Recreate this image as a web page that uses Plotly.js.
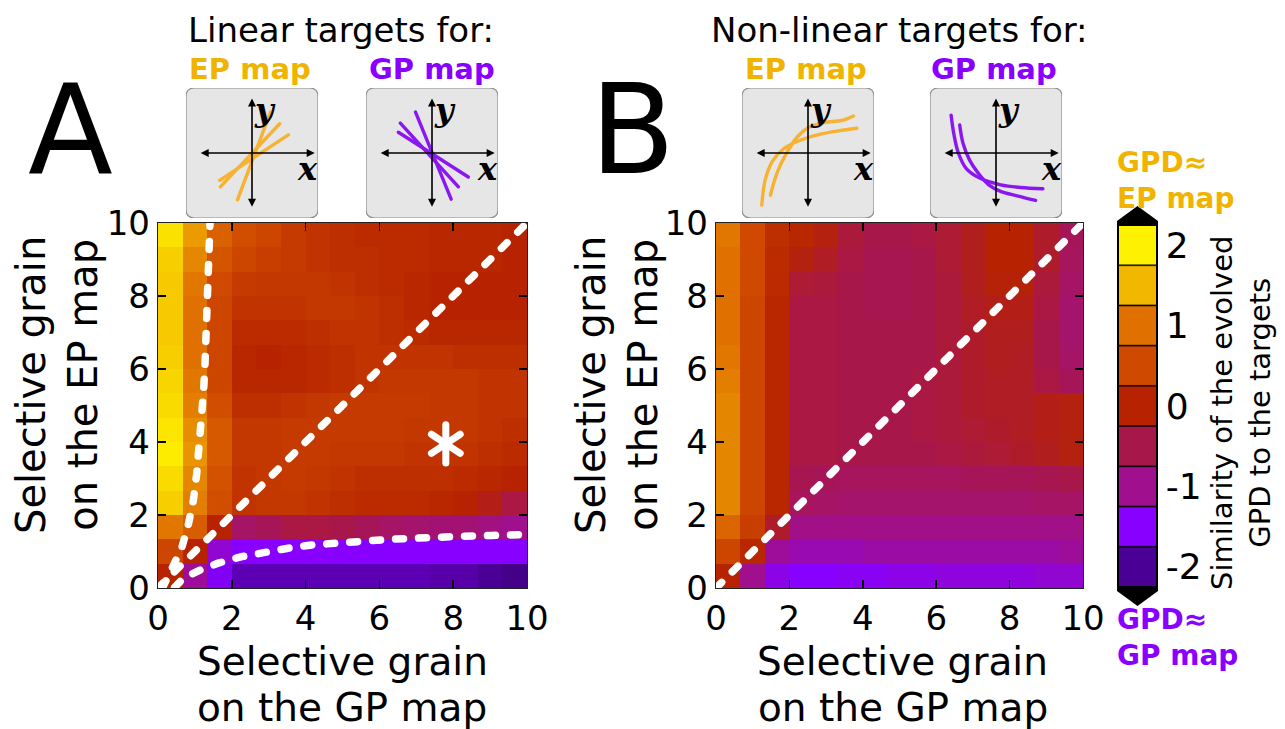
<!DOCTYPE html>
<html><head><meta charset="utf-8">
<script src="https://cdn.plot.ly/plotly-3.0.1.min.js"></script>
<style>
html,body{margin:0;padding:0;background:#fff;}
#chart{width:1285px;height:729px;}
.js-line{stroke-linecap:round;}
.point{stroke-linecap:round;}
</style></head><body><div id="chart"></div>
<script>
// ---------- data ----------
const axisTicks = [0, 2, 4, 6, 8, 10];
const barTicks = [-2, -1, 0, 1, 2];
const barTickText = ['-2', '-1', '0', '1', '2'];

// Panel A: linear targets (rows bottom -> top, 15 x 15 cells over 0..10)
const zLinear = [
  [0.0, -1.05, -1.55, -1.85, -1.85, -1.85, -1.85, -1.85, -1.85, -1.85, -1.85, -1.9, -1.9, -2.0, -2.1],
  [0.45, 0.0, -1.3, -1.5, -1.5, -1.5, -1.5, -1.5, -1.5, -1.5, -1.5, -1.5, -1.5, -1.5, -1.5],
  [1.05, 0.75, 0.0, -0.7, -0.6, -0.45, -0.45, -0.5, -0.6, -0.7, -0.75, -0.8, -0.8, -0.9, -1.0],
  [1.7, 1.1, 0.55, 0.2, 0.25, 0.25, 0.2, 0.15, 0.1, 0.1, 0.1, 0.05, 0.0, -0.15, -0.45],
  [1.8, 1.15, 0.6, 0.2, 0.25, 0.3, 0.25, 0.2, 0.15, 0.15, 0.15, 0.15, 0.1, 0.05, 0.0],
  [1.95, 1.25, 0.7, 0.25, 0.25, 0.3, 0.3, 0.25, 0.25, 0.25, 0.2, 0.2, 0.2, 0.15, 0.1],
  [1.9, 1.2, 0.7, 0.25, 0.25, 0.3, 0.3, 0.3, 0.3, 0.3, 0.25, 0.25, 0.25, 0.2, 0.15],
  [1.8, 1.1, 0.55, 0.15, 0.15, 0.2, 0.25, 0.3, 0.3, 0.3, 0.3, 0.25, 0.25, 0.2, 0.2],
  [1.75, 1.05, 0.45, 0.05, 0.05, 0.05, 0.1, 0.15, 0.2, 0.25, 0.25, 0.25, 0.25, 0.2, 0.2],
  [1.7, 1.0, 0.45, 0.05, 0.0, 0.05, 0.1, 0.15, 0.2, 0.2, 0.2, 0.2, 0.15, 0.15, 0.15],
  [1.65, 1.0, 0.45, 0.1, 0.1, 0.1, 0.15, 0.2, 0.2, 0.15, 0.1, 0.05, 0.05, 0.05, 0.05],
  [1.65, 1.0, 0.45, 0.2, 0.2, 0.2, 0.25, 0.25, 0.2, 0.15, 0.05, 0.0, 0.0, 0.0, 0.0],
  [1.65, 1.05, 0.5, 0.3, 0.25, 0.25, 0.25, 0.2, 0.15, 0.1, 0.05, 0.0, 0.0, 0.0, 0.0],
  [1.7, 1.15, 0.65, 0.45, 0.35, 0.3, 0.2, 0.15, 0.15, 0.1, 0.1, 0.05, 0.05, 0.05, 0.0],
  [1.85, 1.3, 0.8, 0.55, 0.45, 0.3, 0.2, 0.15, 0.1, 0.1, 0.1, 0.05, 0.05, 0.05, 0.0]
];

// Panel B: non-linear targets
const zNonLinear = [
  [0.0, -1.0, -1.4, -1.5, -1.5, -1.45, -1.45, -1.4, -1.4, -1.35, -1.35, -1.35, -1.35, -1.3, -1.3],
  [0.45, 0.05, -1.05, -1.15, -1.15, -1.15, -1.1, -1.1, -1.1, -1.1, -1.1, -1.1, -1.1, -1.1, -1.05],
  [0.85, 0.35, -0.3, -0.95, -0.95, -0.95, -0.95, -0.95, -0.95, -0.95, -0.95, -0.95, -0.95, -0.95, -0.95],
  [1.15, 0.45, 0.05, -0.65, -0.7, -0.75, -0.75, -0.75, -0.75, -0.75, -0.75, -0.75, -0.75, -0.7, -0.7],
  [1.15, 0.45, 0.05, -0.55, -0.6, -0.65, -0.65, -0.65, -0.65, -0.65, -0.6, -0.6, -0.6, -0.55, -0.5],
  [1.15, 0.45, 0.05, -0.45, -0.45, -0.5, -0.5, -0.5, -0.5, -0.45, -0.4, -0.35, -0.3, -0.2, -0.1],
  [1.15, 0.45, 0.05, -0.45, -0.45, -0.5, -0.5, -0.5, -0.45, -0.4, -0.35, -0.3, -0.25, -0.15, -0.1],
  [1.15, 0.45, 0.05, -0.45, -0.45, -0.5, -0.5, -0.5, -0.45, -0.4, -0.3, -0.25, -0.25, -0.15, -0.1],
  [1.1, 0.45, 0.05, -0.45, -0.45, -0.5, -0.5, -0.5, -0.45, -0.4, -0.3, -0.25, -0.25, -0.45, -0.6],
  [1.05, 0.45, 0.05, -0.45, -0.45, -0.5, -0.5, -0.5, -0.5, -0.4, -0.3, -0.2, -0.25, -0.5, -0.7],
  [1.0, 0.45, 0.05, -0.45, -0.45, -0.5, -0.5, -0.5, -0.5, -0.4, -0.3, -0.2, -0.2, -0.5, -0.75],
  [1.0, 0.45, 0.05, -0.45, -0.45, -0.5, -0.55, -0.55, -0.5, -0.4, -0.25, -0.15, -0.15, -0.45, -0.75],
  [1.0, 0.5, 0.1, -0.35, -0.4, -0.5, -0.55, -0.55, -0.5, -0.4, -0.2, -0.05, -0.05, -0.4, -0.7],
  [1.0, 0.5, 0.1, -0.1, -0.25, -0.45, -0.55, -0.55, -0.5, -0.35, -0.2, 0.0, 0.0, -0.3, -0.65],
  [1.05, 0.5, 0.15, 0.05, -0.1, -0.4, -0.5, -0.5, -0.45, -0.35, -0.2, 0.0, 0.0, -0.3, -0.6]
];

// White dashed guide curves (panel A)
const diagX = [0, 10];
const diagY = [0, 10];
const epBoundX = [0.12, 0.38, 0.64, 0.82, 0.96, 1.05, 1.12, 1.18, 1.23, 1.27, 1.30, 1.32, 1.35, 1.37, 1.40, 1.41];
const epBoundY = [0.0, 0.5, 1.09, 1.73, 2.41, 3.14, 3.87, 4.60, 5.33, 6.02, 6.70, 7.43, 8.12, 8.80, 9.58, 10.0];
const gpBoundX = [0.45, 0.69, 1.14, 1.63, 2.27, 2.90, 3.53, 4.17, 4.84, 5.52, 6.24, 6.87, 7.60, 8.32, 9.04, 9.85];
const gpBoundY = [0.02, 0.27, 0.49, 0.68, 0.86, 0.99, 1.09, 1.18, 1.24, 1.30, 1.33, 1.36, 1.41, 1.42, 1.44, 1.46];
const starX = [7.8];
const starY = [3.95];

// Inset target sketches
const epLinX = [-0.22, 0.28, null, -0.48, 0.42, null, -0.49, 0.55];
const epLinY = [-0.72, 0.63, null, -0.52, 0.45, null, -0.42, 0.28];
const gpLinX = [-0.25, 0.29, null, -0.48, 0.40, null, -0.51, 0.55];
const gpLinY = [0.63, -0.71, null, 0.46, -0.52, null, 0.32, -0.37];
const epCurveAX = [-0.70, -0.65, -0.54, -0.36, -0.11, 0.15, 0.46, 0.74];
const epCurveAY = [-0.80, -0.42, -0.13, 0.07, 0.20, 0.28, 0.34, 0.38];
const epCurveBX = [-0.57, -0.47, -0.34, -0.16, 0.02, 0.25, 0.51, 0.69];
const epCurveBY = [-0.65, -0.31, -0.03, 0.25, 0.40, 0.47, 0.50, 0.57];
const gpCurveAX = [-0.68, -0.64, -0.57, -0.45, -0.24, 0.07, 0.37, 0.71];
const gpCurveAY = [0.58, 0.30, 0.0, -0.24, -0.39, -0.49, -0.53, -0.55];
const gpCurveBX = [-0.55, -0.50, -0.40, -0.27, -0.11, 0.07, 0.32, 0.60];
const gpCurveBY = [0.43, 0.15, -0.11, -0.31, -0.49, -0.59, -0.66, -0.73];

// ---------- styling ----------
const W = 1285, H = 729;
const FONT = 'DejaVu Sans';
const ORANGE = '#f0b400', PURPLE = '#8a00ff';
const LINE_OR = '#f7b232', LINE_PU = '#8a16f2';
const px = v => v / W, py = v => 1 - v / H;

const binColors = ['#4b0095', '#8800ff', '#a00f8e', '#a8174a', '#b72300', '#cf4a00', '#e07000', '#f2b800', '#fff200'];
const zMin = -2.25, zMax = 2.25;
// continuous scale for the maps, anchored at the bin centres
const contScale = [[0, '#3c007a']];
binColors.forEach((c, i) => contScale.push([(i + 0.5) / 9, c]));
contScale.push([1, '#fff700']);
// discrete scale with black separators for the colour bar
const sep = 0.004;
const discScale = [];
binColors.forEach((c, i) => {
  const a = i / 9, b = (i + 1) / 9;
  discScale.push([a, i === 0 ? c : '#000']);
  discScale.push([i === 0 ? a : a + sep, c]);
  discScale.push([i === 8 ? b : b - sep, c]);
  discScale.push([b, i === 8 ? c : '#000']);
});

const mapA = {x0: 158, x1: 527, y0: 223, y1: 588};
const mapB = {x0: 716, x1: 1083, y0: 223, y1: 588};
const insetBoxes = [
  {x0: 186, x1: 318}, {x0: 366, x1: 498}, {x0: 742, x1: 874}, {x0: 930, x1: 1062}
];
const insetTop = 88, insetBottom = 218;

const mainAxis = {
  range: [0, 10], tickvals: axisTicks, ticks: 'inside', ticklen: 8, tickwidth: 1.5, tickcolor: '#000',
  showline: true, linecolor: '#222', linewidth: 1.2, mirror: 'ticks', showgrid: false, zeroline: false,
  tickfont: {family: FONT, size: 34, color: '#000'}, fixedrange: true
};

const heat = (z, xa, ya) => ({
  type: 'heatmap', z: z, x0: 1/3, dx: 2/3, y0: 1/3, dy: 2/3, xaxis: xa, yaxis: ya,
  zmin: zMin, zmax: zMax, colorscale: contScale, showscale: false, zsmooth: false, hoverinfo: 'skip'
});
const dashed = (x, y, xa, ya) => ({
  type: 'scatter', mode: 'lines', x: x, y: y, xaxis: xa, yaxis: ya, hoverinfo: 'skip',
  line: {color: '#fff', width: 7.5, dash: '8px,15px'}
});
const sketch = (x, y, xa, ya, col, spline) => ({
  type: 'scatter', mode: 'lines', x: x, y: y, xaxis: xa, yaxis: ya, hoverinfo: 'skip',
  line: {color: col, width: 3.4, shape: spline ? 'spline' : 'linear'}
});

const traces = [
  heat(zLinear, 'x', 'y'),
  heat(zNonLinear, 'x2', 'y2'),
  // colour bar carrier (outside the visible range)
  {type: 'heatmap', z: [[0]], x: [-50], y: [-50], xaxis: 'x', yaxis: 'y', zmin: zMin, zmax: zMax,
   colorscale: discScale, showscale: true, hoverinfo: 'skip',
   colorbar: {x: px(1118), xanchor: 'left', xpad: 0, y: py(406), yanchor: 'middle', ypad: 0,
     len: 362, lenmode: 'pixels', thickness: 39, thicknessmode: 'pixels',
     outlinewidth: 2, outlinecolor: '#000', tickvals: barTicks, ticktext: barTickText, ticks: '',
     tickfont: {family: FONT, size: 36, color: '#000'}}},
  dashed(diagX, diagY, 'x', 'y'),
  dashed(epBoundX, epBoundY, 'x', 'y'),
  dashed(gpBoundX, gpBoundY, 'x', 'y'),
  dashed(diagX, diagY, 'x2', 'y2'),
  {type: 'scatter', mode: 'markers', x: starX, y: starY, xaxis: 'x', yaxis: 'y', hoverinfo: 'skip',
   marker: {symbol: 'y-up', size: 24, line: {color: '#fff', width: 7}}},
  {type: 'scatter', mode: 'markers', x: starX, y: starY, xaxis: 'x', yaxis: 'y', hoverinfo: 'skip',
   marker: {symbol: 'y-down', size: 24, line: {color: '#fff', width: 7}}},
  sketch(epLinX, epLinY, 'x3', 'y3', LINE_OR, false),
  sketch(gpLinX, gpLinY, 'x4', 'y4', LINE_PU, false),
  sketch(epCurveAX, epCurveAY, 'x5', 'y5', LINE_OR, true),
  sketch(epCurveBX, epCurveBY, 'x5', 'y5', LINE_OR, true),
  sketch(gpCurveAX, gpCurveAY, 'x6', 'y6', LINE_PU, true),
  sketch(gpCurveBX, gpCurveBY, 'x6', 'y6', LINE_PU, true)
];

const layout = {
  width: W, height: H, margin: {l: 0, r: 0, t: 0, b: 0},
  paper_bgcolor: '#fff', plot_bgcolor: 'rgba(0,0,0,0)', showlegend: false,
  font: {family: FONT, color: '#000'},
  xaxis: Object.assign({}, mainAxis, {domain: [px(mapA.x0), px(mapA.x1)], anchor: 'y'}),
  yaxis: Object.assign({}, mainAxis, {domain: [py(mapA.y1), py(mapA.y0)], anchor: 'x'}),
  xaxis2: Object.assign({}, mainAxis, {domain: [px(mapB.x0), px(mapB.x1)], anchor: 'y2'}),
  yaxis2: Object.assign({}, mainAxis, {domain: [py(mapB.y1), py(mapB.y0)], anchor: 'x2'}),
  shapes: [], annotations: []
};

insetBoxes.forEach((b, i) => {
  const n = i + 3;
  layout['xaxis' + n] = {domain: [px(b.x0), px(b.x1)], range: [-1, 1], visible: false, anchor: 'y' + n, fixedrange: true};
  layout['yaxis' + n] = {domain: [py(insetBottom), py(insetTop)], range: [-1, 1], visible: false, anchor: 'x' + n, fixedrange: true};
  const r = 0.13;
  layout.shapes.push({type: 'path', xref: 'x' + n, yref: 'y' + n, layer: 'below',
    path: `M ${-1 + r},-1 L ${1 - r},-1 Q 1,-1 1,${-1 + r} L 1,${1 - r} Q 1,1 ${1 - r},1 L ${-1 + r},1 Q -1,1 -1,${1 - r} L -1,${-1 + r} Q -1,-1 ${-1 + r},-1 Z`,
    fillcolor: '#e6e6e6', line: {color: '#8c8c8c', width: 1.2}});
  const arrow = {xref: 'x' + n, yref: 'y' + n, axref: 'x' + n, ayref: 'y' + n, text: '', showarrow: true,
    arrowhead: 2, startarrowhead: 2, arrowside: 'end+start', arrowsize: 1, startarrowsize: 1, arrowwidth: 1.6, arrowcolor: '#000',
    standoff: 0, startstandoff: 0};
  layout.annotations.push(Object.assign({}, arrow, {x: 0.95, y: 0, ax: -0.8, ay: 0}));
  layout.annotations.push(Object.assign({}, arrow, {x: 0, y: 0.84, ax: 0, ay: -0.85}));
  const lab = {xref: 'x' + n, yref: 'y' + n, showarrow: false,
    font: {family: 'DejaVu Serif', size: 32, color: '#000', weight: 'bold', style: 'italic'}};
  layout.annotations.push(Object.assign({}, lab, {x: 0.19, y: 0.66, text: 'y'}));
  layout.annotations.push(Object.assign({}, lab, {x: 0.84, y: -0.25, text: 'x'}));
});

// colour-bar extension triangles
const tri = (pts) => 'M ' + pts.map(p => px(p[0]) + ',' + py(p[1])).join(' L ') + ' Z';
layout.shapes.push({type: 'path', xref: 'paper', yref: 'paper', fillcolor: '#000', line: {width: 0},
  path: tri([[1117, 226], [1117, 221], [1137.5, 206], [1158, 221], [1158, 226]])});
layout.shapes.push({type: 'path', xref: 'paper', yref: 'paper', fillcolor: '#000', line: {width: 0},
  path: tri([[1117, 586], [1117, 591], [1137.5, 606], [1158, 591], [1158, 586]])});

const ann = (x, y, text, size, opts) => Object.assign({xref: 'paper', yref: 'paper', x: px(x), y: py(y), text: text,
  showarrow: false, xanchor: 'center', yanchor: 'middle', font: {family: FONT, size: size, color: '#000'}}, opts || {});
const bold = (size, color) => ({font: {family: FONT, size: size, color: color, weight: 'bold'}});

layout.annotations.push(
  ann(70, 130, 'A', 124),
  ann(632, 130, 'B', 124),
  ann(341, 30, 'Linear targets for:', 34),
  ann(899, 30, 'Non-linear targets for:', 34),
  ann(250, 69, 'EP map', 29, bold(29, ORANGE)),
  ann(432, 69, 'GP map', 29, bold(29, PURPLE)),
  ann(806, 69, 'EP map', 29, bold(29, ORANGE)),
  ann(994, 69, 'GP map', 29, bold(29, PURPLE)),
  ann(342, 661, 'Selective grain', 39),
  ann(342, 707, 'on the GP map', 39),
  ann(903, 661, 'Selective grain', 39),
  ann(903, 707, 'on the GP map', 39),
  ann(57, 385, 'Selective grain<br>on the EP map', 40, {textangle: -90}),
  ann(617, 385, 'Selective grain<br>on the EP map', 40, {textangle: -90}),
  ann(1241, 413, 'Similarity of the evolved<br>GPD to the targets', 29, {textangle: -90}),
  ann(1115, 180, 'GPD≈<br>EP map', 28, Object.assign({xanchor: 'left', align: 'left'}, bold(28, ORANGE))),
  ann(1115, 637, 'GPD≈<br>GP map', 28, Object.assign({xanchor: 'left', align: 'left'}, bold(28, PURPLE)))
);

Plotly.newPlot('chart', traces, layout, {staticPlot: true, displayModeBar: false});
</script></body></html>
